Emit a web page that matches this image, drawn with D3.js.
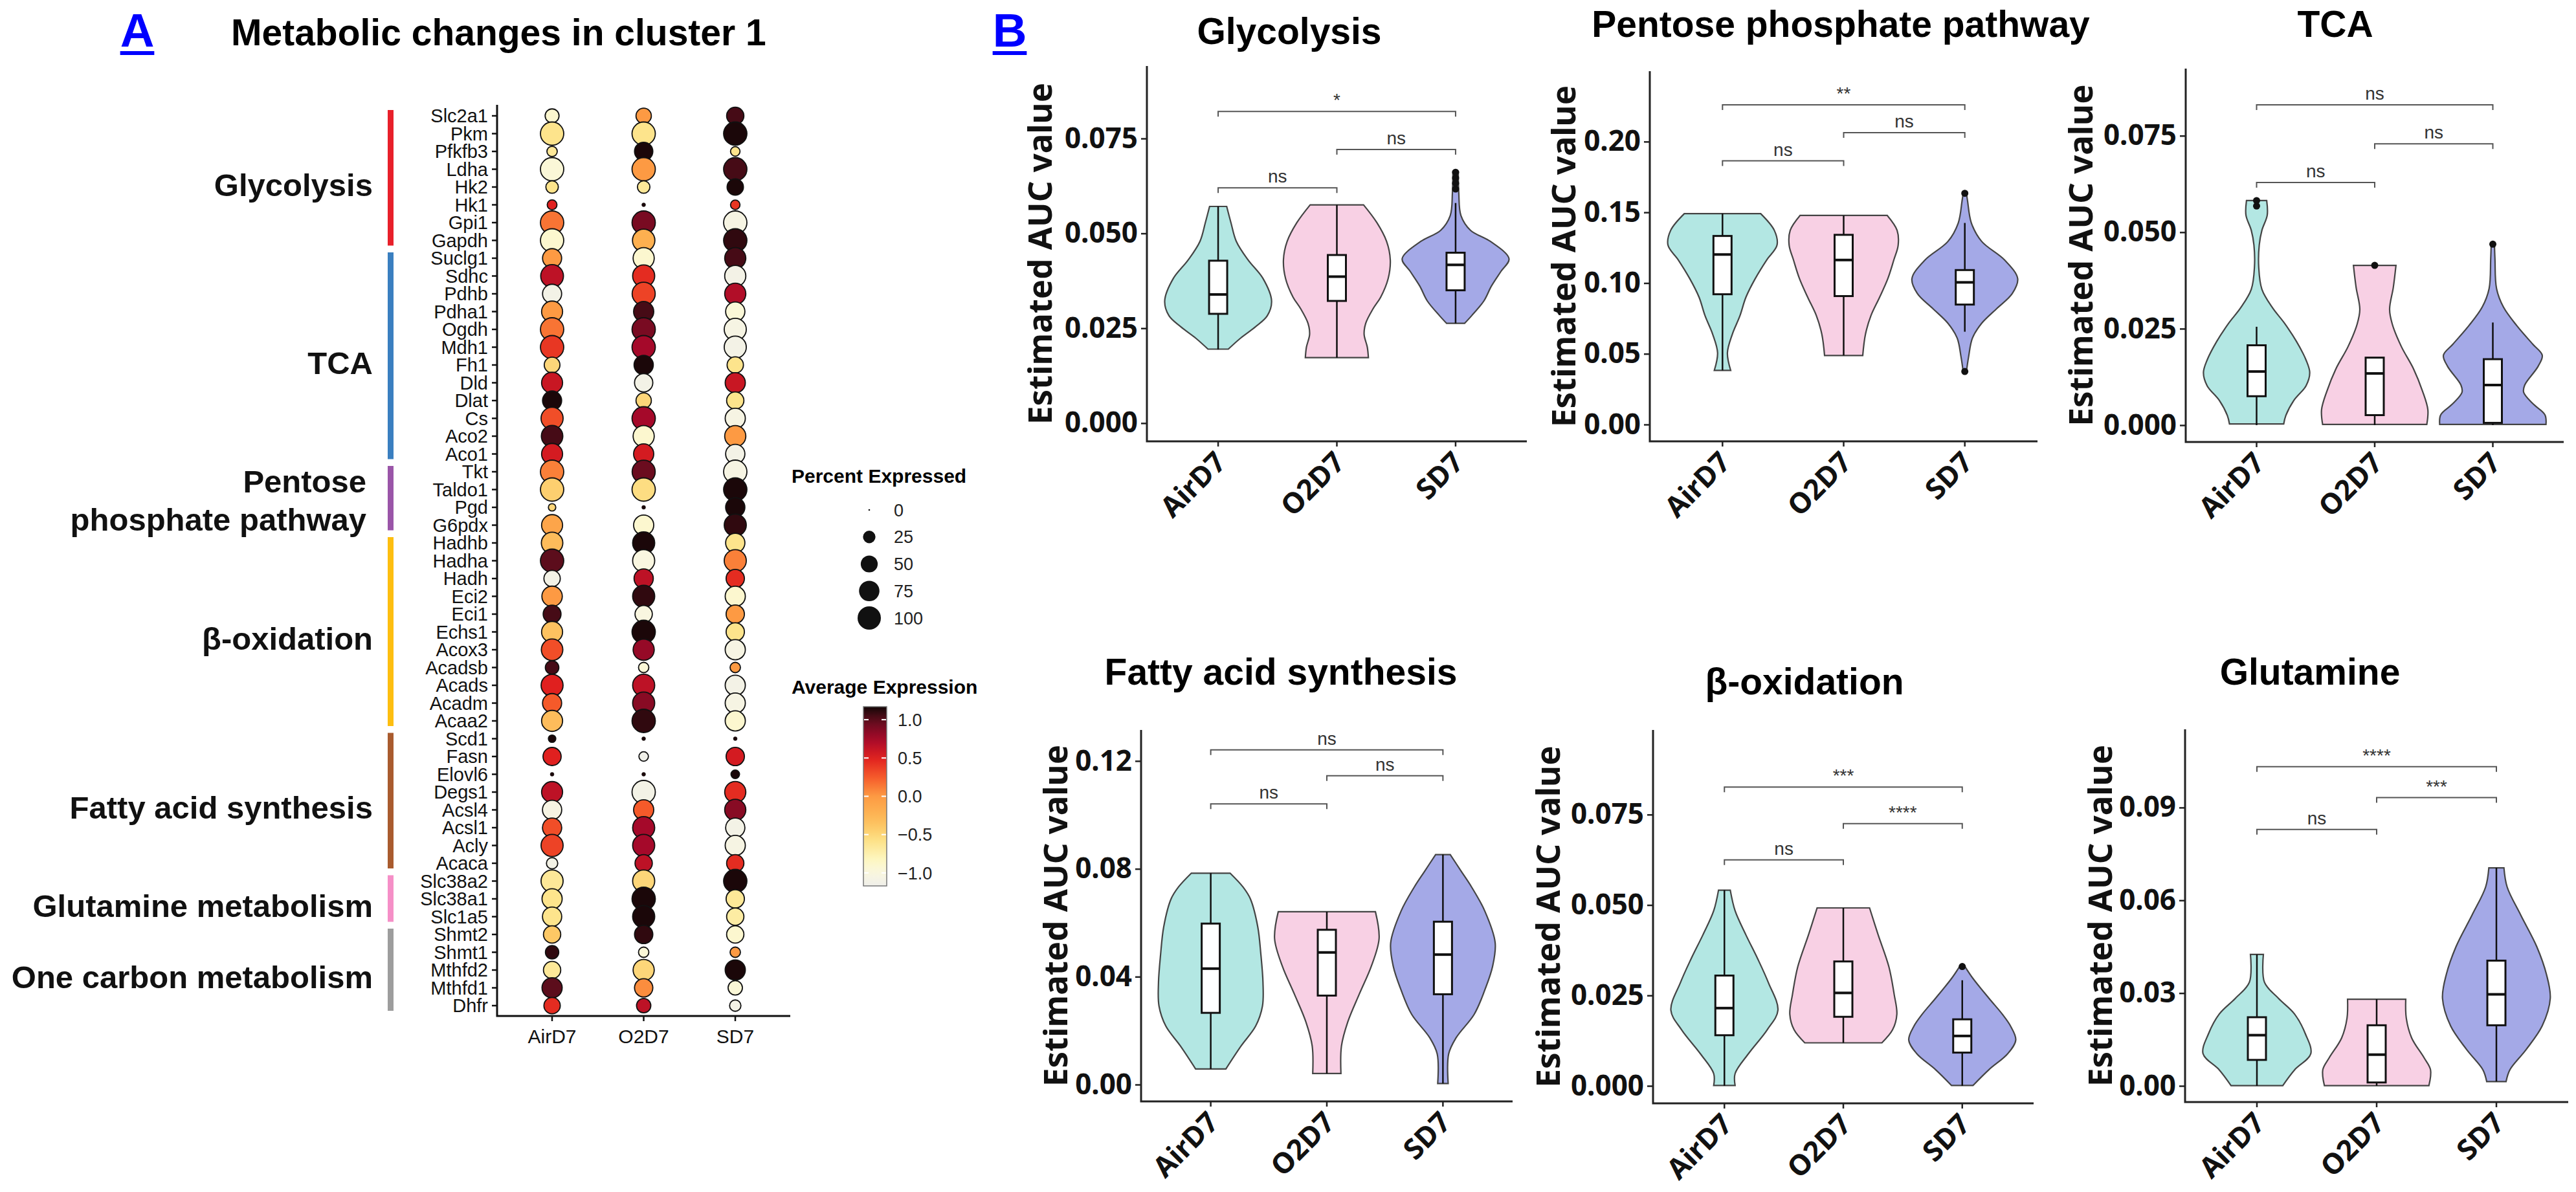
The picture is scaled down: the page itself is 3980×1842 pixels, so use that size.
<!DOCTYPE html>
<html>
<head>
<meta charset="utf-8">
<script src="https://cdn.jsdelivr.net/npm/d3@7"></script>
<style>
body { margin: 0; background: #fff; }
</style>
</head>
<body>
<script>
"use strict";

// ---------- panel A data (dot plot) ----------
var conditions = ["AirD7", "O2D7", "SD7"];
var genes = ["Slc2a1", "Pkm", "Pfkfb3", "Ldha", "Hk2", "Hk1", "Gpi1", "Gapdh",
    "Suclg1", "Sdhc", "Pdhb", "Pdha1", "Ogdh", "Mdh1", "Fh1", "Dld", "Dlat", "Cs", "Aco2", "Aco1",
    "Tkt", "Taldo1", "Pgd", "G6pdx",
    "Hadhb", "Hadha", "Hadh", "Eci2", "Eci1", "Echs1", "Acox3", "Acadsb", "Acads", "Acadm", "Acaa2",
    "Scd1", "Fasn", "Elovl6", "Degs1", "Acsl4", "Acsl1", "Acly", "Acaca",
    "Slc38a2", "Slc38a1", "Slc1a5",
    "Shmt2", "Shmt1", "Mthfd2", "Mthfd1", "Dhfr"];
var pathways = ["Glycolysis", "TCA", "Pentose\nphosphate pathway", "β-oxidation",
    "Fatty acid synthesis", "Glutamine metabolism", "One carbon metabolism"];
var pathwaySizes = [8, 12, 4, 11, 8, 3, 5];

// percent expressed
var pctAirD7 = [32, 100, 16, 100, 25, 14, 100, 100, 65, 95, 65, 80, 100, 100, 42, 80, 65, 89, 84, 80,
    100, 100, 7, 80, 84, 100, 46, 75, 56, 80, 84, 30, 88, 65, 80,
    7, 58, 1, 80, 66, 66, 89, 20, 89, 73, 66, 52, 29, 52, 73, 46];
var pctO2D7 = [40, 100, 59, 100, 25, 1, 100, 92, 81, 89, 98, 73, 100, 100, 66, 59, 40, 100, 81, 73,
    98, 100, 1, 73, 89, 89, 66, 89, 52, 100, 81, 16, 89, 89, 100,
    1, 13, 1, 100, 73, 89, 89, 52, 89, 100, 89, 59, 16, 81, 59, 34];
var pctSD7 = [52, 100, 13, 100, 46, 13, 100, 100, 81, 81, 81, 66, 89, 89, 46, 73, 52, 73, 81, 66,
    100, 100, 66, 89, 66, 89, 59, 73, 59, 59, 73, 16, 73, 73, 73,
    1, 59, 10, 81, 81, 66, 73, 52, 100, 59, 52, 52, 16, 73, 34, 20];

// average expression (scaled)
var avgAirD7 = [-0.9, -0.6, -0.65, -0.95, -0.6, 0.5, 0.15, -0.9, 0.0, 0.65, -1.1, 0.0, 0.15, 0.4, -0.5, 0.6, 1.15, 0.3, 1.05, 0.55,
    0.1, -0.45, -0.5, -0.1, -0.3, 1.0, -1.1, 0.0, 1.05, -0.35, 0.3, 1.05, 0.5, 0.25, -0.3,
    1.15, 0.5, 1.15, 0.65, -1.05, 0.3, 0.35, -1.1, -0.65, -0.6, -0.6, -0.4, 1.1, -0.65, 1.0, 0.45];
var avgO2D7 = [0.0, -0.6, 1.15, 0.0, -0.65, 1.15, 0.9, -0.2, -0.9, 0.45, 0.35, 1.05, 0.9, 0.75, 1.15, -1.1, -0.5, 0.75, -0.9, 0.55,
    0.95, -0.55, 1.15, -0.9, 1.15, -1.0, 0.65, 1.1, -1.0, 1.15, 0.8, -0.95, 0.65, 0.85, 1.1,
    1.15, -1.15, 1.15, -1.1, 0.25, 0.75, 0.75, 0.65, -0.5, 1.15, 1.15, 1.1, -0.95, -0.5, 0.05, 0.65];
var avgSD7 = [1.05, 1.15, -0.6, 1.05, 1.15, 0.4, -1.05, 1.1, 1.05, -1.1, 0.7, -0.95, -1.05, -1.1, -0.6, 0.6, -0.6, -1.05, 0.0, -1.1,
    -1.05, 1.15, 1.15, 1.1, -0.6, 0.1, 0.45, -0.9, 0.0, -0.6, -1.05, 0.0, -1.1, -1.05, -0.9,
    1.15, 0.55, 1.15, 0.45, 0.85, -1.1, -1.05, 0.45, 1.15, -0.65, -0.7, -0.9, 0.0, 1.15, -0.95, -1.1];

var legendPct = [0, 25, 50, 75, 100];
var legendAvg = [1.0, 0.5, 0.0, -0.5, -1.0];

// ---------- panel B data (violins: [value, relative half width]) ----------
var panelTitles = ["Glycolysis", "Pentose phosphate pathway", "TCA",
    "Fatty acid synthesis", "β-oxidation", "Glutamine"];

var glyTicks = [0, 0.025, 0.05, 0.075];
var glyAirD7 = [[0.0195, 0.19], [0.0224, 0.42], [0.0254, 0.7], [0.0283, 0.92], [0.0322, 1.0], [0.0381, 0.84],
    [0.043, 0.56], [0.0479, 0.34], [0.0528, 0.24], [0.0571, 0.16]];
var glyO2D7 = [[0.01725, 0.59], [0.020, 0.57], [0.0234, 0.51], [0.0263, 0.54], [0.0302, 0.68], [0.0332, 0.82],
    [0.0381, 0.96], [0.043, 1.0], [0.0479, 0.93], [0.0528, 0.75], [0.0575, 0.5]];
var glySD7 = [[0.0263, 0.17], [0.0283, 0.3], [0.0322, 0.53], [0.0361, 0.67], [0.04, 0.85], [0.0433, 1.0],
    [0.0479, 0.65], [0.0508, 0.28], [0.0547, 0.1], [0.0606, 0.06], [0.0663, 0.05]];
var glyBox = [[0.0194, 0.0288, 0.0339, 0.0428, 0.0571], [0.01725, 0.0322, 0.0386, 0.0443, 0.0575], [0.0263, 0.035, 0.0417, 0.0449, 0.058]];
var glyOutliers = [[], [], [0.0617, 0.0632, 0.0646, 0.0661]];
var glySig = [["AirD7", "O2D7", 0.062, "ns"], ["O2D7", "SD7", 0.0721, "ns"], ["AirD7", "SD7", 0.0821, "*"]];

var pppTicks = [0, 0.05, 0.10, 0.15, 0.20];
var pppAirD7 = [[0.0383, 0.15], [0.0506, 0.09], [0.0638, 0.18], [0.0769, 0.32], [0.09, 0.43], [0.1031, 0.6],
    [0.1163, 0.81], [0.1268, 1.0], [0.1373, 0.95], [0.1491, 0.7]];
var pppO2D7 = [[0.0488, 0.35], [0.0638, 0.4], [0.0769, 0.5], [0.09, 0.66], [0.1031, 0.81], [0.1163, 0.92],
    [0.1268, 1.0], [0.1373, 0.98], [0.1478, 0.8]];
var pppSD7 = [[0.0375, 0.03], [0.048, 0.07], [0.0611, 0.14], [0.0716, 0.31], [0.0821, 0.59], [0.0926, 0.87],
    [0.1031, 0.97], [0.1163, 0.73], [0.1294, 0.31], [0.1425, 0.12], [0.1582, 0.05], [0.1635, 0.03]];
var pppBox = [[0.0383, 0.0921, 0.1202, 0.1333, 0.1491], [0.0488, 0.0908, 0.1163, 0.1341, 0.1478], [0.0656, 0.0848, 0.1005, 0.1092, 0.1425]];
var pppOutliers = [[], [], [0.0375, 0.1635]];
var pppSig = [["AirD7", "O2D7", 0.1864, "ns"], ["O2D7", "SD7", 0.2063, "ns"], ["AirD7", "SD7", 0.226, "**"]];

var tcaTicks = [0, 0.025, 0.05, 0.075];
var tcaAirD7 = [[0.0003, 0.51], [0.0025, 0.55], [0.0064, 0.7], [0.0102, 0.93], [0.0136, 1.0], [0.0169, 0.93],
    [0.0217, 0.75], [0.0265, 0.52], [0.0304, 0.3], [0.0352, 0.1], [0.041, 0.04], [0.0467, 0.05],
    [0.0505, 0.1], [0.0544, 0.2], [0.0582, 0.19]];
var tcaO2D7 = [[0.0002, 0.98], [0.004, 1.0], [0.0088, 0.9], [0.0146, 0.73], [0.0204, 0.5], [0.0262, 0.33],
    [0.03, 0.28], [0.0357, 0.35], [0.0414, 0.4]];
var tcaSD7 = [[0.0002, 1.0], [0.0027, 0.98], [0.0056, 0.75], [0.0085, 0.58], [0.0104, 0.6], [0.0152, 0.85],
    [0.0181, 0.93], [0.021, 0.75], [0.0258, 0.45], [0.0306, 0.2], [0.0354, 0.07], [0.0431, 0.04], [0.0469, 0.03]];
var tcaBox = [[0, 0.0075, 0.0139, 0.0207, 0.0255], [0, 0.0026, 0.0134, 0.0175, 0.0175], [0, 0.0006, 0.0104, 0.0171, 0.0266]];
var tcaOutliers = [[0.0568, 0.0582], [0.0414], [0.0469]];
var tcaSig = [["AirD7", "O2D7", 0.0629, "ns"], ["O2D7", "SD7", 0.0729, "ns"], ["AirD7", "SD7", 0.083, "ns"]];

var fasTicks = [0, 0.04, 0.08, 0.12];
var fasAirD7 = [[0.0058, 0.29], [0.0143, 0.58], [0.0217, 0.86], [0.0291, 0.99], [0.0379, 1.0], [0.0482, 0.96],
    [0.0585, 0.9], [0.0688, 0.76], [0.0732, 0.62], [0.0784, 0.37]];
var fasO2D7 = [[0.0041, 0.27], [0.0143, 0.28], [0.0232, 0.4], [0.0335, 0.62], [0.0438, 0.85], [0.0541, 1.0], [0.0641, 0.93]];
var fasSD7 = [[0.0004, 0.1], [0.0114, 0.11], [0.0173, 0.25], [0.0261, 0.6], [0.035, 0.8], [0.0438, 0.95],
    [0.0526, 1.0], [0.0644, 0.8], [0.0732, 0.55], [0.0791, 0.35], [0.0853, 0.14]];
var fasBox = [[0.0058, 0.0266, 0.043, 0.0597, 0.0784], [0.0041, 0.033, 0.049, 0.0574, 0.0641], [0.0004, 0.0335, 0.0482, 0.0604, 0.0853]];
var fasOutliers = [[], [], []];
var fasSig = [["AirD7", "O2D7", 0.1041, "ns"], ["O2D7", "SD7", 0.1145, "ns"], ["AirD7", "SD7", 0.1241, "ns"]];

var boxTicks = [0, 0.025, 0.05, 0.075];
var boxAirD7 = [[0.0001, 0.2], [0.0034, 0.2], [0.0089, 0.45], [0.0155, 0.8], [0.0209, 1.0], [0.0286, 0.82],
    [0.0352, 0.62], [0.0418, 0.4], [0.0484, 0.2], [0.0541, 0.11]];
var boxO2D7 = [[0.0119, 0.72], [0.0155, 0.92], [0.0198, 1.0], [0.0253, 0.95], [0.033, 0.85], [0.0418, 0.65], [0.0492, 0.49]];
var boxSD7 = [[0.0001, 0.2], [0.0045, 0.5], [0.0089, 0.85], [0.0127, 1.0], [0.0166, 0.9], [0.0198, 0.75],
    [0.0242, 0.5], [0.0297, 0.2], [0.033, 0.05]];
var boxBox = [[0, 0.014, 0.0215, 0.0305, 0.0541], [0.0119, 0.0191, 0.0257, 0.0344, 0.0492], [0, 0.0092, 0.0138, 0.0184, 0.0292]];
var boxOutliers = [[], [], [0.033]];
var boxSig = [["AirD7", "O2D7", 0.0625, "ns"], ["O2D7", "SD7", 0.0725, "****"], ["AirD7", "SD7", 0.0826, "***"]];

var gluTicks = [0, 0.03, 0.06, 0.09];
var gluAirD7 = [[0.0001, 0.48], [0.0052, 0.7], [0.0104, 1.0], [0.0168, 0.9], [0.0232, 0.7], [0.0283, 0.4],
    [0.0335, 0.14], [0.0425, 0.12]];
var gluO2D7 = [[0.0001, 0.97], [0.0052, 1.0], [0.0091, 0.88], [0.0155, 0.65], [0.0219, 0.55], [0.028, 0.54]];
var gluSD7 = [[0.0014, 0.18], [0.0052, 0.25], [0.0117, 0.55], [0.0194, 0.85], [0.0283, 1.0], [0.036, 0.93],
    [0.045, 0.75], [0.0553, 0.45], [0.0643, 0.2], [0.0705, 0.14]];
var gluBox = [[0, 0.0084, 0.0164, 0.0222, 0.0425], [0, 0.0011, 0.0101, 0.0196, 0.028], [0.0014, 0.0196, 0.0296, 0.0405, 0.0705]];
var gluOutliers = [[], [], []];
var gluSig = [["AirD7", "O2D7", 0.0829, "ns"], ["O2D7", "SD7", 0.0932, "***"], ["AirD7", "SD7", 0.1032, "****"]];

// ---------- styles ----------
var arial = "'Liberation Sans', Arial, sans-serif";
var noto = "'Noto Sans', 'DejaVu Sans', sans-serif";
var pathwayColors = ["#e8202a", "#3a7fc0", "#9a55a8", "#fdbe10", "#a95b2e", "#f58fc7", "#9d9d9d"];
var violinFill = ["#b3e7e3", "#f8d0e4", "#a4a9e7"];

var avgColor = d3.scaleLinear()
    .domain([-1.17, -1.0, -0.85, -0.6, -0.4, -0.2, 0, 0.25, 0.5, 0.75, 1.0, 1.17])
    .range(["#efefea", "#f9f6e0", "#fdf8c6", "#fde48c", "#fdc865", "#fdb050", "#fd9a43",
            "#f55a2a", "#e0201f", "#a5092a", "#5c0d1c", "#120606"])
    .clamp(true);
var radius = d3.scaleSqrt().domain([0, 100]).range([1.3, 18]);

var svg = d3.select("body")
    .append("svg")
    .attr("width", 3980)
    .attr("height", 1842)
    .style("display", "block");

function panelLetter(txt, cx) {
    var t = svg.append("text")
        .attr("x", cx).attr("y", 72)
        .attr("text-anchor", "middle")
        .attr("font-family", arial).attr("font-weight", "bold")
        .attr("font-size", 73).attr("fill", "#0000ff")
        .text(txt);
    var w = t.node().getComputedTextLength();
    svg.append("rect")
        .attr("x", cx - w / 2).attr("y", 79)
        .attr("width", w).attr("height", 6)
        .attr("fill", "#0000ff");
}

function draw_dotplot() {
    var g = svg.append("g");
    var y = d3.scalePoint().domain(genes).range([179, 1554]);
    var x = d3.scalePoint().domain(conditions).range([853, 1136]);
    var axisX = 768, axisY = 1570;

    g.append("text")
        .attr("x", 357).attr("y", 70)
        .attr("font-family", arial).attr("font-weight", "bold").attr("font-size", 57)
        .text("Metabolic changes in cluster 1");

    // axes
    g.append("path")
        .attr("d", "M" + axisX + ",162V" + axisY + "H1221")
        .attr("fill", "none").attr("stroke", "#111").attr("stroke-width", 3);
    g.selectAll(".gtick").data(genes).enter().append("line")
        .attr("x1", axisX - 8).attr("x2", axisX)
        .attr("y1", function(d) { return y(d); })
        .attr("y2", function(d) { return y(d); })
        .attr("stroke", "#111").attr("stroke-width", 2.5);
    g.selectAll(".glab").data(genes).enter().append("text")
        .attr("x", axisX - 14)
        .attr("y", function(d) { return y(d); })
        .attr("dy", "0.36em")
        .attr("text-anchor", "end")
        .attr("font-family", arial).attr("font-size", 29).attr("fill", "#111")
        .text(function(d) { return d; });
    conditions.forEach(function(c) {
        g.append("line")
            .attr("x1", x(c)).attr("x2", x(c))
            .attr("y1", axisY).attr("y2", axisY + 8)
            .attr("stroke", "#111").attr("stroke-width", 2.5);
        g.append("text")
            .attr("x", x(c)).attr("y", 1612)
            .attr("text-anchor", "middle")
            .attr("font-family", arial).attr("font-size", 30).attr("fill", "#111")
            .text(c);
    });

    // pathway bars and labels
    var start = 0;
    pathways.forEach(function(name, i) {
        var end = start + pathwaySizes[i] - 1;
        var y1 = y(genes[start]) - 9;
        var y2 = y(genes[end]) + 8;
        g.append("rect")
            .attr("x", 599).attr("y", y1)
            .attr("width", 9).attr("height", y2 - y1)
            .attr("fill", pathwayColors[i]);
        var mid = (y1 + y2) / 2;
        var lines = name.split("\n");
        var t = g.append("text")
            .attr("text-anchor", "end")
            .attr("font-family", arial).attr("font-weight", "bold").attr("font-size", 49)
            .attr("fill", "#111");
        if (lines.length === 1) {
            t.attr("x", 576).attr("y", mid + 28).text(name);
        } else {
            t.append("tspan").attr("x", 566).attr("y", mid - 9).text(lines[0]);
            t.append("tspan").attr("x", 566).attr("y", mid + 50).text(lines[1]);
        }
        start = end + 1;
    });

    // dots
    var pct = [pctAirD7, pctO2D7, pctSD7];
    var avg = [avgAirD7, avgO2D7, avgSD7];
    conditions.forEach(function(c, ci) {
        g.selectAll(".dot" + ci).data(genes).enter().append("circle")
            .attr("cx", x(c))
            .attr("cy", function(d) { return y(d); })
            .attr("r", function(d, i) { return radius(pct[ci][i]); })
            .attr("fill", function(d, i) { return avgColor(avg[ci][i]); })
            .attr("stroke", "#111")
            .attr("stroke-width", function(d, i) { return pct[ci][i] < 3 ? 0.5 : 1.8; });
    });
}

function draw_legends() {
    var g = svg.append("g");
    g.append("text")
        .attr("x", 1223).attr("y", 746)
        .attr("font-family", arial).attr("font-weight", "bold").attr("font-size", 30)
        .text("Percent Expressed");
    var ly = d3.scalePoint().domain(legendPct).range([788, 955]);
    legendPct.forEach(function(p) {
        g.append("circle")
            .attr("cx", 1343).attr("cy", ly(p))
            .attr("r", radius(p)).attr("fill", "#111");
        g.append("text")
            .attr("x", 1381).attr("y", ly(p)).attr("dy", "0.36em")
            .attr("font-family", arial).attr("font-size", 27).attr("fill", "#222")
            .text(p);
    });

    g.append("text")
        .attr("x", 1223).attr("y", 1072)
        .attr("font-family", arial).attr("font-weight", "bold").attr("font-size", 30)
        .text("Average Expression");
    var cy = d3.scaleLinear().domain([-1.17, 1.17]).range([1369, 1092]);
    var grad = svg.append("defs").append("linearGradient")
        .attr("id", "avgGrad")
        .attr("x1", 0).attr("y1", 1).attr("x2", 0).attr("y2", 0);
    d3.range(0, 1.0001, 0.05).forEach(function(t) {
        grad.append("stop")
            .attr("offset", t)
            .attr("stop-color", avgColor(-1.17 + t * 2.34));
    });
    g.append("rect")
        .attr("x", 1334).attr("y", 1092)
        .attr("width", 36).attr("height", 277)
        .attr("fill", "url(#avgGrad)")
        .attr("stroke", "#777").attr("stroke-width", 1.5);
    var fmt = d3.format(".1f");
    legendAvg.forEach(function(v) {
        g.append("line").attr("x1", 1335).attr("x2", 1342)
            .attr("y1", cy(v)).attr("y2", cy(v))
            .attr("stroke", "#fff").attr("stroke-width", 2);
        g.append("line").attr("x1", 1362).attr("x2", 1369)
            .attr("y1", cy(v)).attr("y2", cy(v))
            .attr("stroke", "#fff").attr("stroke-width", 2);
        g.append("text")
            .attr("x", 1387).attr("y", cy(v)).attr("dy", "0.36em")
            .attr("font-family", arial).attr("font-size", 27).attr("fill", "#222")
            .text(fmt(v));
    });
}

function draw_violin_panel(p) {
    var g = svg.append("g");
    var x = d3.scalePoint().domain(conditions).range([p.left, p.right]).padding(0.6);
    var y = d3.scaleLinear().domain(p.domain).range([p.bottom, p.top]);
    var hw = x.step() * 0.45;

    g.append("text")
        .attr("x", p.titleX).attr("y", p.titleY)
        .attr("text-anchor", "middle")
        .attr("font-family", arial).attr("font-weight", "bold").attr("font-size", 57)
        .text(p.title);

    // violins
    p.violins.forEach(function(shape, i) {
        var cx = x(conditions[i]);
        var area = d3.area()
            .curve(d3.curveCatmullRom.alpha(0.5))
            .y(function(d) { return y(d[0]); })
            .x0(function(d) { return cx - d[1] * hw; })
            .x1(function(d) { return cx + d[1] * hw; });
        g.append("path")
            .datum(shape)
            .attr("d", area)
            .attr("fill", violinFill[i])
            .attr("stroke", "#444").attr("stroke-width", 2.2);
    });

    // boxplots
    p.box.forEach(function(b, i) {
        var cx = x(conditions[i]);
        g.append("line")
            .attr("x1", cx).attr("x2", cx)
            .attr("y1", y(b[0])).attr("y2", y(b[4]))
            .attr("stroke", "#111").attr("stroke-width", 2.5);
        g.append("rect")
            .attr("x", cx - 14).attr("y", y(b[3]))
            .attr("width", 28).attr("height", y(b[1]) - y(b[3]))
            .attr("fill", "#fff").attr("stroke", "#111").attr("stroke-width", 3);
        g.append("line")
            .attr("x1", cx - 14).attr("x2", cx + 14)
            .attr("y1", y(b[2])).attr("y2", y(b[2]))
            .attr("stroke", "#111").attr("stroke-width", 4);
        p.outliers[i].forEach(function(v) {
            g.append("circle")
                .attr("cx", cx).attr("cy", y(v)).attr("r", 5.5)
                .attr("fill", "#111");
        });
    });

    // significance brackets
    p.sig.forEach(function(s) {
        var x1 = x(s[0]), x2 = x(s[1]), yy = y(s[2]);
        g.append("path")
            .attr("d", "M" + x1 + "," + (yy + 8) + "V" + yy + "H" + x2 + "V" + (yy + 8))
            .attr("fill", "none").attr("stroke", "#555").attr("stroke-width", 2);
        g.append("text")
            .attr("x", (x1 + x2) / 2).attr("y", yy - 8)
            .attr("text-anchor", "middle")
            .attr("font-family", arial).attr("font-size", 28).attr("fill", "#333")
            .text(s[3]);
    });

    // axes
    g.append("path")
        .attr("d", "M" + p.left + "," + p.top + "V" + p.bottom + "H" + p.right)
        .attr("fill", "none").attr("stroke", "#222").attr("stroke-width", 3);
    var ya = g.append("g")
        .attr("transform", "translate(" + p.left + ",0)")
        .call(d3.axisLeft(y).tickValues(p.ticks).tickFormat(d3.format(p.fmt)).tickSize(9).tickPadding(5));
    ya.select(".domain").remove();
    ya.attr("font-family", noto).attr("font-size", 44).attr("font-weight", "bold");
    ya.selectAll("text").attr("fill", "#111");
    ya.selectAll("line").attr("stroke", "#222").attr("stroke-width", 2.5);

    conditions.forEach(function(c) {
        var cx = x(c);
        g.append("line")
            .attr("x1", cx).attr("x2", cx)
            .attr("y1", p.bottom).attr("y2", p.bottom + 8)
            .attr("stroke", "#222").attr("stroke-width", 2.5);
        g.append("text")
            .attr("transform", "translate(" + (cx + 15) + "," + (p.bottom + 35) + ")rotate(-45)")
            .attr("text-anchor", "end")
            .attr("font-family", noto).attr("font-weight", "bold").attr("font-size", 44)
            .attr("fill", "#111")
            .text(c);
    });

    g.append("text")
        .attr("transform", "translate(" + (p.left - p.ylabOffset) + "," + ((p.top + p.bottom) / 2) + ")rotate(-90)")
        .attr("text-anchor", "middle")
        .attr("dy", "0.36em")
        .attr("font-family", noto).attr("font-weight", "bold").attr("font-size", 51)
        .attr("fill", "#111")
        .text("Estimated AUC value");
}

// run
draw_dotplot();
draw_legends();
panelLetter("A", 212);
panelLetter("B", 1560);

var panels = [
    {title: panelTitles[0], titleX: 1992, titleY: 68, left: 1772, right: 2359, top: 102, bottom: 682,
     domain: [-0.0048, 0.0941], ticks: glyTicks, fmt: ".3f", ylabOffset: 165,
     violins: [glyAirD7, glyO2D7, glySD7], box: glyBox, outliers: glyOutliers, sig: glySig},
    {title: panelTitles[1], titleX: 2844, titleY: 57, left: 2549, right: 3148, top: 110, bottom: 682,
     domain: [-0.0119, 0.2498], ticks: pppTicks, fmt: ".2f", ylabOffset: 133,
     violins: [pppAirD7, pppO2D7, pppSD7], box: pppBox, outliers: pppOutliers, sig: pppSig},
    {title: panelTitles[2], titleX: 3608, titleY: 57, left: 3377, right: 3961, top: 106, bottom: 683,
     domain: [-0.00436, 0.0924], ticks: tcaTicks, fmt: ".3f", ylabOffset: 162,
     violins: [tcaAirD7, tcaO2D7, tcaSD7], box: tcaBox, outliers: tcaOutliers, sig: tcaSig},
    {title: panelTitles[3], titleX: 1979, titleY: 1058, left: 1763, right: 2337, top: 1128, bottom: 1702,
     domain: [-0.00624, 0.1315], ticks: fasTicks, fmt: ".2f", ylabOffset: 132,
     violins: [fasAirD7, fasO2D7, fasSD7], box: fasBox, outliers: fasOutliers, sig: fasSig},
    {title: panelTitles[4], titleX: 2788, titleY: 1073, left: 2554, right: 3142, top: 1128, bottom: 1705,
     domain: [-0.00483, 0.0984], ticks: boxTicks, fmt: ".3f", ylabOffset: 162,
     violins: [boxAirD7, boxO2D7, boxSD7], box: boxBox, outliers: boxOutliers, sig: boxSig},
    {title: panelTitles[5], titleX: 3569, titleY: 1058, left: 3376, right: 3968, top: 1127, bottom: 1703,
     domain: [-0.00523, 0.1153], ticks: gluTicks, fmt: ".2f", ylabOffset: 131,
     violins: [gluAirD7, gluO2D7, gluSD7], box: gluBox, outliers: gluOutliers, sig: gluSig}
];
panels.forEach(draw_violin_panel);
</script>
</body>
</html>
